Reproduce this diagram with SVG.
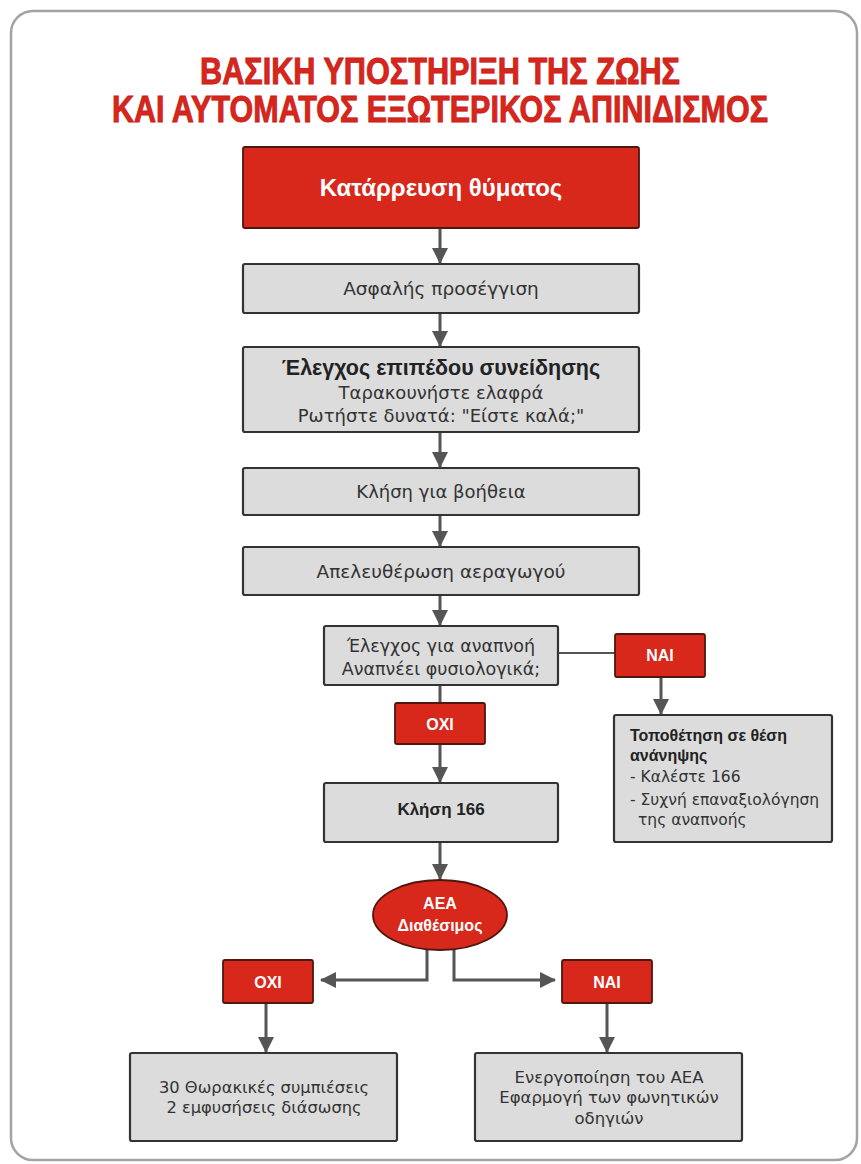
<svg xmlns="http://www.w3.org/2000/svg" width="861" height="1164" viewBox="0 0 861 1164">
<defs>
<marker id="ah" markerUnits="userSpaceOnUse" markerWidth="16" markerHeight="16" refX="15" refY="8" orient="auto"><path d="M0,0 L16,8 L0,16 z" fill="#555"/></marker>
</defs>
<style>
.frame{fill:#fff;stroke:#a3a3a3;stroke-width:2.5}
.gbox{fill:#dcdcdc;stroke:#333;stroke-width:2.2}
.rbox{fill:#d8271b;stroke:#4d1810;stroke-width:1.8}
.t{font-family:"DejaVu Sans","Liberation Sans",sans-serif;fill:#333;text-anchor:middle}
.b{font-family:"Liberation Sans","DejaVu Sans",sans-serif;font-weight:bold;fill:#222;text-anchor:middle}
.w{font-family:"Liberation Sans","DejaVu Sans",sans-serif;font-weight:bold;fill:#fff;text-anchor:middle}
.l{text-anchor:start}
.title{font-family:"Liberation Sans","DejaVu Sans",sans-serif;font-weight:bold;font-size:36px;fill:#d7261c;stroke:#c8221a;stroke-width:0.9;text-anchor:middle}
.c{stroke:#555;stroke-width:3;fill:none}
.cl{stroke:#555;stroke-width:2;fill:none}
</style>
<rect class="frame" x="11" y="11" width="846" height="1149" rx="22"/>
<g id="title">
<text class="title" x="440" y="84" textLength="480" lengthAdjust="spacingAndGlyphs">ΒΑΣΙΚΗ ΥΠΟΣΤΗΡΙΞΗ ΤΗΣ ΖΩΗΣ</text>
<text class="title" x="440" y="122" textLength="656" lengthAdjust="spacingAndGlyphs">ΚΑΙ ΑΥΤΟΜΑΤΟΣ ΕΞΩΤΕΡΙΚΟΣ ΑΠΙΝΙΔΙΣΜΟΣ</text>
</g>
<g id="connectors">
<line class="c" x1="440" y1="228" x2="440" y2="263" marker-end="url(#ah)"/>
<line class="c" x1="440" y1="313" x2="440" y2="346" marker-end="url(#ah)"/>
<line class="c" x1="440" y1="432" x2="440" y2="467" marker-end="url(#ah)"/>
<line class="c" x1="440" y1="515" x2="440" y2="546" marker-end="url(#ah)"/>
<line class="c" x1="440" y1="595" x2="440" y2="625" marker-end="url(#ah)"/>
<line class="c" x1="440" y1="685" x2="440" y2="703"/>
<line class="c" x1="440" y1="744" x2="440" y2="782" marker-end="url(#ah)"/>
<line class="cl" x1="558" y1="653" x2="615" y2="653"/>
<line class="c" x1="661" y1="677" x2="661" y2="714" marker-end="url(#ah)"/>
<line class="c" x1="440" y1="842" x2="440" y2="879" marker-end="url(#ah)"/>
<path class="c" d="M427,948 L427,980 L321,980" marker-end="url(#ah)"/>
<path class="c" d="M454,948 L454,980 L555,980" marker-end="url(#ah)"/>
<line class="c" x1="266" y1="1003" x2="266" y2="1052" marker-end="url(#ah)"/>
<line class="c" x1="607" y1="1003" x2="607" y2="1052" marker-end="url(#ah)"/>
</g>
<g id="n1">
<rect class="rbox" x="243" y="147" width="396" height="81" rx="2"/>
<text class="w" x="441" y="196" font-size="24">Κατάρρευση θύματος</text>
</g>
<g id="n2">
<rect class="gbox" x="243" y="264" width="396" height="49" rx="2"/>
<text class="t" x="441" y="295" font-size="18.5">Ασφαλής προσέγγιση</text>
</g>
<g id="n3">
<rect class="gbox" x="243" y="347" width="396" height="85" rx="2"/>
<text class="b" x="441" y="375" font-size="21.5">Έλεγχος επιπέδου συνείδησης</text>
<text class="t" x="441" y="399" font-size="18">Ταρακουνήστε ελαφρά</text>
<text class="t" x="441" y="422" font-size="18">Ρωτήστε δυνατά: "Είστε καλά;"</text>
</g>
<g id="n4">
<rect class="gbox" x="243" y="468" width="396" height="47" rx="2"/>
<text class="t" x="441" y="498" font-size="18">Κλήση για βοήθεια</text>
</g>
<g id="n5">
<rect class="gbox" x="243" y="547" width="396" height="48" rx="2"/>
<text class="t" x="441" y="578" font-size="18.5">Απελευθέρωση αεραγωγού</text>
</g>
<g id="n6">
<rect class="gbox" x="324" y="626" width="234" height="59" rx="2"/>
<text class="t" x="441" y="652" font-size="17.5">Έλεγχος για αναπνοή</text>
<text class="t" x="441" y="675" font-size="17.5">Αναπνέει φυσιολογικά;</text>
</g>
<g id="nai1">
<rect class="rbox" x="615" y="634" width="90" height="43" rx="2"/>
<text class="w" x="660" y="661" font-size="16">ΝΑΙ</text>
</g>
<g id="oxi1">
<rect class="rbox" x="395" y="703" width="90" height="41" rx="2"/>
<text class="w" x="440" y="730" font-size="16">ΟΧΙ</text>
</g>
<g id="n7">
<rect class="gbox" x="614" y="715" width="218" height="127" rx="2"/>
<text class="b l" x="630" y="741" font-size="16">Τοποθέτηση σε θέση</text>
<text class="b l" x="630" y="761" font-size="16">ανάνηψης</text>
<text class="t l" x="630" y="782" font-size="15.5">- Καλέστε 166</text>
<text class="t l" x="630" y="805" font-size="15.5">- Συχνή επαναξιολόγηση</text>
<text class="t l" x="638" y="825" font-size="15.5">της αναπνοής</text>
</g>
<g id="n8">
<rect class="gbox" x="324" y="783" width="234" height="59" rx="2"/>
<text class="b" x="441" y="815" font-size="17">Κλήση 166</text>
</g>
<g id="n9">
<ellipse cx="440" cy="915" rx="67" ry="35" fill="#d8271b" stroke="#4d1810" stroke-width="1.8"/>
<text class="w" x="440" y="909" font-size="16">ΑΕΑ</text>
<text class="w" x="440" y="931" font-size="16">Διαθέσιμος</text>
</g>
<g id="oxi2">
<rect class="rbox" x="223" y="960" width="90" height="43" rx="2"/>
<text class="w" x="268" y="988" font-size="16">ΟΧΙ</text>
</g>
<g id="nai2">
<rect class="rbox" x="562" y="960" width="90" height="43" rx="2"/>
<text class="w" x="607" y="988" font-size="16">ΝΑΙ</text>
</g>
<g id="n10">
<rect class="gbox" x="130" y="1053" width="267" height="88" rx="2"/>
<text class="t" x="264" y="1093" font-size="16.3">30 Θωρακικές συμπιέσεις</text>
<text class="t" x="264" y="1113" font-size="16.3">2 εμφυσήσεις διάσωσης</text>
</g>
<g id="n11">
<rect class="gbox" x="475" y="1053" width="267" height="88" rx="2"/>
<text class="t" x="609" y="1083" font-size="16.5">Ενεργοποίηση του ΑΕΑ</text>
<text class="t" x="609" y="1103" font-size="16.5">Εφαρμογή των φωνητικών</text>
<text class="t" x="609" y="1124" font-size="16.5">οδηγιών</text>
</g>
</svg>
